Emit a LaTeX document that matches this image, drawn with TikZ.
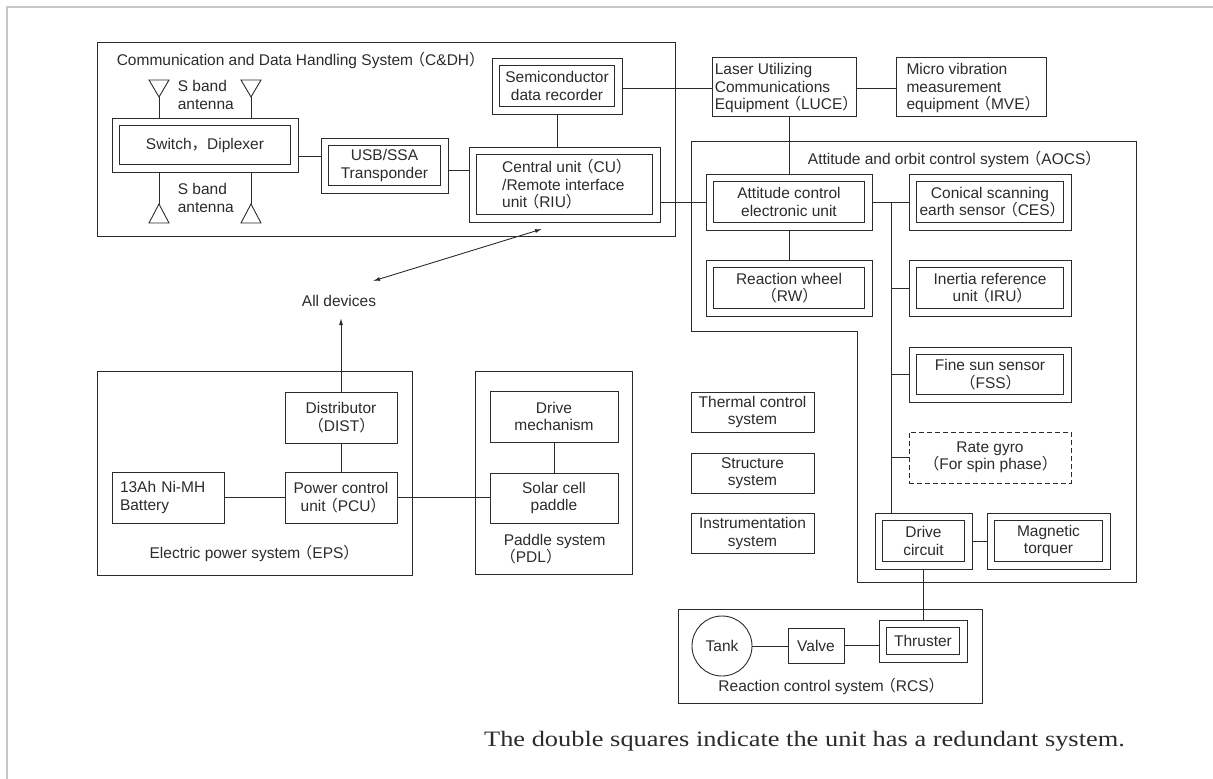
\documentclass[tikz,border=0pt]{standalone}
\usepackage{fontspec}
\setmainfont{Liberation Sans}
\newfontfamily\cjkfont{Noto Sans CJK JP}
\newfontfamily\notefont[FakeStretch=1.2]{Liberation Serif}
\usepackage{tikz}
\usetikzlibrary{arrows.meta,calc}
\definecolor{lineDark}{HTML}{2B2B2B}
\definecolor{frameGray}{HTML}{C8C8C8}
\newcommand{\lp}{{\cjkfont\kern-.22em（}}
\newcommand{\rp}{{\cjkfont）\kern-.3em}}

\begin{document}
\begin{tikzpicture}[x=1pt,y=-1pt,>={Latex[length=7pt,width=4pt]},
    line width=0.9pt,color=lineDark,
    every node/.style={font=\fontsize{15.5}{17.5}\selectfont},
    box/.style={draw,inner sep=0pt,align=center},
    dbox/.style={box,path picture={
      \draw ([shift={(7.5pt,-7.5pt)}]path picture bounding box.north west)
        rectangle ([shift={(-7.5pt,7.5pt)}]path picture bounding box.south east);}}]
    \useasboundingbox (0,0) rectangle (1213,779);
    \draw[frameGray,line width=2pt] (7,779) -- (7,7) -- (1213,7);

    % C&DH
    \draw (97,42) rectangle (675,236);
    \node[anchor=west] (cdhT) at (113,60)
      {Communication and Data Handling System\lp C\&DH\rp};
    \node[dbox,minimum width=186pt,minimum height=54pt] (sw) at (205,145)
      {Switch{\cjkfont ，}Diplexer};
    \node[dbox,minimum width=127pt,minimum height=55pt] (usb) at (384.5,165.5)
      {USB/SSA\\Transponder};
    \node[dbox,minimum width=130pt,minimum height=56pt] (sdr) at (557,86)
      {Semiconductor\\data recorder};
    \node[dbox,minimum width=191pt,minimum height=75pt,align=left] (cu) at (564.5,184.5)
      {Central unit\lp CU\rp\\/Remote interface\\unit\lp RIU\rp};
    \foreach \n/\x in {a/159,b/251} {
      \coordinate (ant\n) at (\x,97);
      \draw (ant\n) -- ++(-10,-17) -- ++(20,0) -- cycle;
      \draw (ant\n) -- (ant\n |- sw.north);
    }
    \foreach \n/\x in {c/159,d/251} {
      \coordinate (ant\n) at (\x,204);
      \draw (ant\n) -- ++(-10,19) -- ++(20,0) -- cycle;
      \draw (ant\n) -- (ant\n |- sw.south);
    }
    \node[anchor=west,align=left] (sbU) at (174,95) {S band\\antenna};
    \node[anchor=west,align=left] (sbL) at (174,198) {S band\\antenna};
    \draw ([yshift=9.5pt]usb.west) -- ([yshift=9.5pt]usb.west -| sw.east);
    \draw ([yshift=-4.5pt]usb.east) -- ([yshift=-4.5pt]usb.east -| cu.west);
    \draw (sdr.south) -- (sdr.south |- cu.north);

    % LUCE, MVE
    \node[box,minimum width=144pt,minimum height=59pt,align=left,text depth=0pt] (luce)
      at (784,86.5) {Laser Utilizing\\Communications\\Equipment\lp LUCE\rp};
    \node[box,minimum width=150pt,minimum height=59pt,align=left,text depth=0pt] (mve)
      at (971,86.5) {Micro vibration\\measurement\\equipment\lp MVE\rp};
    \draw ([yshift=-2pt]sdr.east) -- ([yshift=-2pt]sdr.east -| luce.west);
    \draw ([yshift=-2pt]luce.east) -- ([yshift=-2pt]mve.west);

    % AOCS
    \draw (691,141) -- (1136,141) -- (1136,582) -- (857,582) -- (857,331)
      -- (691,331) -- cycle;
    \node[anchor=east] (aocsT) at (1100,159)
      {Attitude and orbit control system\lp AOCS\rp};
    \node[dbox,minimum width=166pt,minimum height=56pt] (aceu) at (789,202)
      {Attitude control\\electronic unit};
    \node[dbox,minimum width=162pt,minimum height=56pt] (ces) at (990,202)
      {Conical scanning\\earth sensor\lp CES\rp};
    \node[dbox,minimum width=166pt,minimum height=56pt] (rw) at (789,288)
      {Reaction wheel\\\lp RW\rp};
    \node[dbox,minimum width=162pt,minimum height=56pt] (iru) at (990,288)
      {Inertia reference\\unit\lp IRU\rp};
    \node[dbox,minimum width=162pt,minimum height=55pt] (fss) at (990,374.5)
      {Fine sun sensor\\\lp FSS\rp};
    \node[box,dash pattern=on 5pt off 3pt,minimum width=162pt,minimum height=51pt] (gyro)
      at (990,457.5) {Rate gyro\\\lp For spin phase\rp};
    \node[dbox,minimum width=97pt,minimum height=56pt] (drv) at (923.5,541)
      {Drive\\circuit};
    \node[dbox,minimum width=123pt,minimum height=56pt] (mtq) at (1048.5,541)
      {Magnetic\\torquer};
    \coordinate (bus) at (891,202);
    \draw (aceu.east) -- (ces.west);
    \draw (bus) -- (bus |- drv.north);
    \foreach \n in {iru,fss,gyro}
      \draw (bus |- \n.west) -- (\n.west);
    \draw (drv.east) -- (mtq.west);
    \draw (aceu.south) -- (rw.north);
    \draw (aceu.north |- luce.south) -- (aceu.north);
    \draw (aceu.west -| cu.east) -- (aceu.west);

    % other systems
    \node[box,minimum width=123pt,minimum height=40pt] (thm) at (752.5,412)
      {Thermal control\\system};
    \node[box,minimum width=123pt,minimum height=40pt] (str) at (752.5,473)
      {Structure\\system};
    \node[box,minimum width=123pt,minimum height=40pt] (ins) at (752.5,533.5)
      {Instrumentation\\system};

    % RCS
    \draw (678,609) rectangle (982,703);
    \node (rcsT) at (829,686) {Reaction control system\lp RCS\rp};
    \node[draw,circle,minimum size=60pt,inner sep=0pt] (tank) at (722,646) {Tank};
    \node[box,minimum width=56pt,minimum height=35pt] (valve) at (816,645.5) {Valve};
    \node[dbox,minimum width=88pt,minimum height=42pt] (thr) at (923,641) {Thruster};
    \draw (tank.east) -- (tank.east -| valve.west);
    \draw (valve.east) -- (valve.east -| thr.west);
    \draw (drv.south) -- (drv.south |- thr.north);

    % EPS
    \draw (97,371) rectangle (412,575);
    \node (epsT) at (252,553) {Electric power system\lp EPS\rp};
    \node[box,minimum width=112pt,minimum height=51pt] (dist) at (341,417.5)
      {Distributor\\\lp DIST\rp};
    \node[box,minimum width=112pt,minimum height=51pt] (pcu) at (341,497.5)
      {Power control\\unit\lp PCU\rp};
    \node[box,minimum height=51pt,text width=96pt,inner xsep=8pt,align=left] (bat)
      at (168,497.5) {13Ah Ni-MH\\Battery};
    \node[inner ysep=11pt] (alld) at (339,301) {All devices};
    \draw (dist.south) -- (pcu.north);
    \draw (bat.east) -- (pcu.west);
    \draw[->] (dist.north) -- (dist.north |- alld.south);
    \coordinate (cuTip) at (542,229);
    \coordinate (devTip) at (373,281);
    \draw[<->] (devTip) -- (cuTip);

    % PDL
    \draw (475,371) rectangle (632,574);
    \node[box,minimum width=128pt,minimum height=51pt] (drvm) at (554,416.5)
      {Drive\\mechanism};
    \node[box,minimum width=128pt,minimum height=50pt] (solar) at (554,498)
      {Solar cell\\paddle};
    \node[anchor=west,align=left] (pdlT) at (500,549) {Paddle system\\\lp PDL\rp};
    \draw (drvm.south) -- (solar.north);
    \draw (pcu.east) -- (pcu.east -| solar.west);

    \node[font=\notefont\fontsize{22}{26}\selectfont] (note) at (804.5,741)
      {The double squares indicate the unit has a redundant system.};
  \end{tikzpicture}
\end{document}
